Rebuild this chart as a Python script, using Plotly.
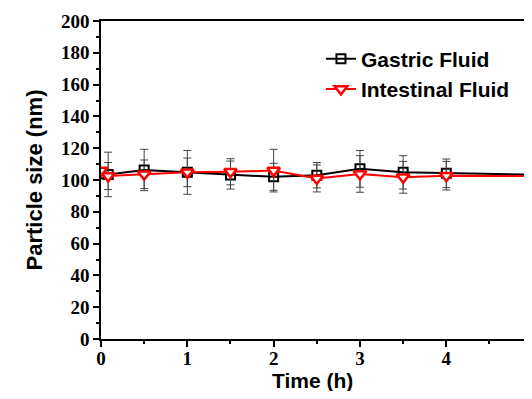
import plotly.graph_objects as go

time_h = [0, 0.083, 0.5, 1, 1.5, 2, 2.5, 3, 3.5, 4, 5]
gastric = [104.0, 103.5, 106.3, 104.8, 103.1, 102.0, 103.0, 107.0, 104.8, 104.2, 103.4]
gastric_err = [0, 14.0, 13.0, 13.8, 8.8, 8.5, 8.0, 11.5, 10.5, 9.0, 11.0]
intestinal = [106.0, 102.5, 103.6, 104.8, 105.2, 105.9, 101.0, 103.8, 101.7, 102.7, 102.5]
intestinal_err = [0, 8.5, 9.0, 9.0, 8.2, 13.4, 8.5, 11.5, 10.0, 9.0, 10.0]

x_ticks = [0, 1, 2, 3, 4, 5]
y_ticks = [0, 20, 40, 60, 80, 100, 120, 140, 160, 180, 200]

tick_font = dict(family="Liberation Serif", size=19, color="black")
title_font = dict(family="Liberation Sans", size=22, color="black")

fig = go.Figure()
fig.add_trace(go.Scatter(
    x=time_h, y=gastric, name="<b>Gastric Fluid</b>", mode="lines+markers",
    line=dict(color="black", width=2),
    marker=dict(symbol="square-open", size=9, color="black", line=dict(width=2)),
    error_y=dict(type="data", array=gastric_err, color="#444", thickness=1, width=4),
))
fig.add_trace(go.Scatter(
    x=time_h, y=intestinal, name="<b>Intestinal Fluid</b>", mode="lines+markers",
    line=dict(color="#ff0000", width=2),
    marker=dict(symbol="triangle-down", size=11, color="white", line=dict(width=2.5, color="#ff0000")),
    error_y=dict(type="data", array=intestinal_err, color="#444", thickness=1, width=4),
))

fig.update_layout(
    width=516, height=383,
    margin=dict(l=93, r=0, t=13, b=52),
    plot_bgcolor="white", paper_bgcolor="white",
    showlegend=True,
    legend=dict(x=0.52, y=0.945, xanchor="left", yanchor="top",
                font=dict(family="Liberation Sans", size=21, color="black"),
                bgcolor="rgba(0,0,0,0)", tracegroupgap=0),
    xaxis=dict(
        range=[0, 4.9], tickvals=x_ticks, ticktext=[f"<b>{t}</b>" for t in x_ticks],
        showgrid=False, zeroline=False, showline=True, linecolor="black", linewidth=1.5,
        mirror=True, ticks="outside", ticklen=6, tickwidth=1.5, tickcolor="black",
        tickfont=tick_font, automargin=False, ticklabelstandoff=-5,
        minor=dict(dtick=0.5, ticks="outside", ticklen=3, tickwidth=1.5, tickcolor="black"),
    ),
    yaxis=dict(
        range=[0, 200], tickvals=y_ticks, ticktext=[f"<b>{t}</b>" for t in y_ticks],
        showgrid=False, zeroline=False, showline=True, linecolor="black", linewidth=1.5,
        ticks="outside", ticklen=6, tickwidth=1.5, tickcolor="black",
        tickfont=tick_font, automargin=False,
        minor=dict(dtick=10, ticks="outside", ticklen=3, tickwidth=1.5, tickcolor="black"),
        title=dict(text="<b>Particle size (nm)</b>", font=title_font, standoff=12),
    ),
    annotations=[dict(text="<b>Time (h)</b>", font=dict(family="Liberation Sans", size=21, color="black"),
                      xref="paper", yref="paper",
                      x=0.5, y=0, xanchor="center", yanchor="top", yshift=-28,
                      showarrow=False)],
)

fig.write_html("out.html")
